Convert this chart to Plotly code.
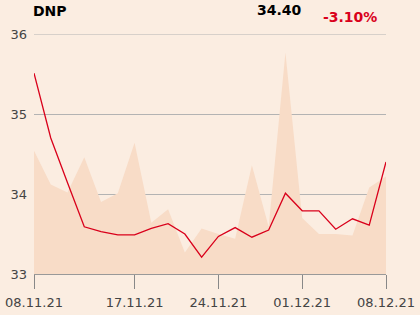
import plotly.graph_objects as go

dates = ["08.11.21", "09.11.21", "10.11.21", "12.11.21", "15.11.21", "16.11.21",
         "17.11.21", "18.11.21", "19.11.21", "22.11.21", "23.11.21", "24.11.21",
         "25.11.21", "26.11.21", "29.11.21", "30.11.21", "01.12.21", "02.12.21",
         "03.12.21", "06.12.21", "07.12.21", "08.12.21"]
price = [35.51, 34.70, 34.14, 33.59, 33.53, 33.49, 33.49, 33.57, 33.63, 33.50,
         33.21, 33.47, 33.58, 33.46, 33.55, 34.01, 33.79, 33.79, 33.56, 33.69,
         33.61, 34.40]
shade = [34.54, 34.12, 34.02, 34.46, 33.90, 34.01, 34.64, 33.64, 33.81, 33.27,
         33.57, 33.50, 33.44, 34.36, 33.59, 35.77, 33.70, 33.50, 33.50, 33.48,
         34.08, 34.22]
tick_labels = ["08.11.21", "17.11.21", "24.11.21", "01.12.21", "08.12.21"]
y_ticks = [33, 34, 35, 36]

idx = list(range(len(dates)))
tick_idx = [dates.index(t) for t in tick_labels]

fig = go.Figure()
fig.add_trace(go.Scatter(x=idx, y=shade, mode="lines", fill="tozeroy",
                         line=dict(width=0, color="rgba(0,0,0,0)"),
                         fillcolor="#f8dcc7", hoverinfo="skip"))
fig.add_trace(go.Scatter(x=idx, y=price, mode="lines",
                         line=dict(width=1.3, color="#d9001b")))

# top gridline (at the range edge)
fig.add_shape(type="line", xref="paper", x0=0, x1=1, yref="y",
              y0=y_ticks[-1], y1=y_ticks[-1],
              line=dict(color="#b3b3b3", width=1), layer="below")

fig.update_layout(
    width=420, height=315,
    margin=dict(l=34, r=34, t=34, b=41),
    paper_bgcolor="#fbede1", plot_bgcolor="#fbede1",
    showlegend=False,
    font=dict(family="DejaVu Sans", color="#444444", size=13),
    xaxis=dict(range=[0, len(dates) - 1], tickmode="array", tickvals=tick_idx,
               ticktext=tick_labels, showgrid=False, zeroline=False,
               showline=True, linecolor="#999999", linewidth=1,
               ticks="outside", ticklen=14, tickcolor="#888888",
               ticklabelstandoff=2, automargin=False,
               tickfont=dict(size=13, color="#444444")),
    yaxis=dict(range=[33, 36], tickvals=y_ticks, showgrid=True,
               gridcolor="#b3b3b3", gridwidth=1, zeroline=False,
               showline=False, ticks="", ticklabelstandoff=6,
               automargin=False,
               tickfont=dict(size=13, color="#444444")),
    annotations=[
        dict(text="<b>DNP</b>", xref="paper", yref="paper", x=0, y=1.096,
             xanchor="left", yanchor="middle", showarrow=False, xshift=-3,
             font=dict(size=14, color="#000000")),
        dict(text="<b>34.40</b>", xref="paper", yref="paper", x=0.761, y=1.1,
             xanchor="right", yanchor="middle", showarrow=False, xshift=2,
             font=dict(size=14, color="#000000")),
        dict(text="<b>-3.10%</b>", xref="paper", yref="paper", x=0.899, y=1.071,
             xanchor="center", yanchor="middle", showarrow=False,
             font=dict(size=14, color="#d9001b")),
    ],
)
fig.write_html("out.html")
